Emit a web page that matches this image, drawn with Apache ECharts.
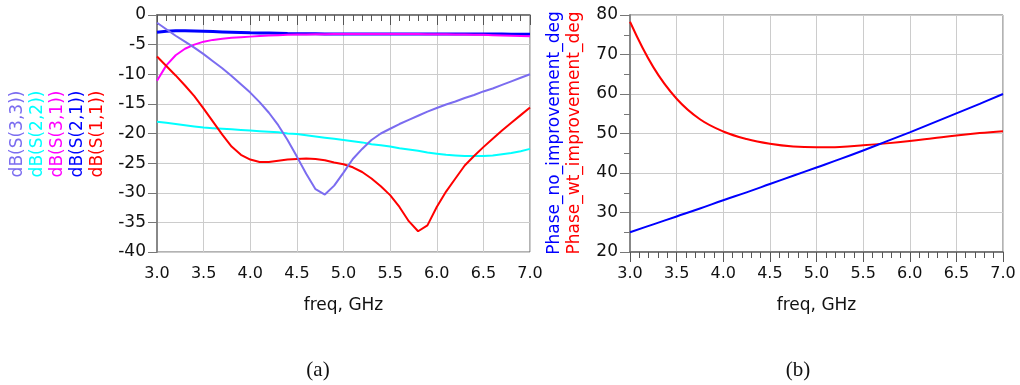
<!DOCTYPE html>
<html>
<head>
<meta charset="utf-8">
<script src="https://cdn.jsdelivr.net/npm/echarts@6/dist/echarts.min.js"></script>
<style>
  html, body { margin: 0; padding: 0; background: #fff; }
  #chart { width: 1020px; height: 385px; }
</style>
</head>
<body>
<div id="chart"></div>
<script>
// (a) S-parameters, sampled every 0.1 GHz
const freq = [3.0, 3.1, 3.2, 3.3, 3.4, 3.5, 3.6, 3.7, 3.8, 3.9, 4.0, 4.1, 4.2, 4.3, 4.4, 4.5, 4.6, 4.7, 4.8, 4.9,
  5.0, 5.1, 5.2, 5.3, 5.4, 5.5, 5.6, 5.7, 5.8, 5.9, 6.0, 6.1, 6.2, 6.3, 6.4, 6.5, 6.6, 6.7, 6.8, 6.9, 7.0];
const s33 = [-1.3, -2.4, -3.5, -4.5, -5.5, -6.6, -7.8, -9.0, -10.3, -11.7, -13.1, -14.7, -16.5, -18.6, -21.1, -23.9, -26.8, -29.4, -30.3, -28.8,
  -26.6, -24.3, -22.6, -21.1, -20.0, -19.2, -18.4, -17.7, -17.0, -16.3, -15.7, -15.1, -14.6, -14.0, -13.5, -12.9, -12.4, -11.8, -11.2, -10.6, -10.0];
const s22 = [-18.0, -18.2, -18.4, -18.6, -18.8, -19.0, -19.1, -19.2, -19.3, -19.4, -19.5, -19.6, -19.7, -19.8, -20.0, -20.1, -20.3, -20.5, -20.7, -20.9,
  -21.1, -21.3, -21.5, -21.8, -22.0, -22.2, -22.5, -22.7, -22.9, -23.2, -23.4, -23.6, -23.7, -23.8, -23.8, -23.8, -23.7, -23.5, -23.3, -23.0, -22.6];
const s31 = [-11.1, -8.5, -6.8, -5.7, -5.0, -4.5, -4.2, -4.0, -3.85, -3.75, -3.65, -3.55, -3.45, -3.4, -3.35, -3.3, -3.28, -3.26, -3.24, -3.22,
  -3.2, -3.2, -3.2, -3.2, -3.2, -3.2, -3.2, -3.2, -3.22, -3.24, -3.25, -3.27, -3.29, -3.31, -3.33, -3.35, -3.4, -3.45, -3.5, -3.55, -3.6];
const s21 = [-2.9, -2.75, -2.65, -2.65, -2.7, -2.75, -2.8, -2.85, -2.9, -2.95, -3.0, -3.02, -3.05, -3.08, -3.12, -3.15, -3.17, -3.18, -3.19, -3.2,
  -3.2, -3.2, -3.2, -3.2, -3.2, -3.2, -3.2, -3.2, -3.2, -3.2, -3.2, -3.2, -3.2, -3.2, -3.2, -3.2, -3.21, -3.22, -3.23, -3.24, -3.25];
const s11 = [-7.0, -8.6, -10.2, -11.9, -13.7, -15.8, -18.0, -20.2, -22.2, -23.6, -24.4, -24.8, -24.8, -24.6, -24.4, -24.3, -24.2, -24.3, -24.5, -24.9,
  -25.2, -25.7, -26.5, -27.6, -28.9, -30.4, -32.4, -34.8, -36.5, -35.5, -32.4, -29.8, -27.6, -25.4, -23.8, -22.3, -20.9, -19.5, -18.2, -16.9, -15.6];

// (b) phase, sampled every 0.25 GHz
const freqB = [3.0, 3.25, 3.5, 3.75, 4.0, 4.25, 4.5, 4.75, 5.0, 5.25, 5.5, 5.75, 6.0, 6.25, 6.5, 6.75, 7.0];
const phaseNo = [25.0, 27.0, 29.0, 31.0, 33.1, 35.1, 37.2, 39.3, 41.4, 43.5, 45.7, 48.0, 50.3, 52.7, 55.1, 57.5, 60.0];
const phaseWt = [78.3, 66.8, 58.8, 53.6, 50.5, 48.6, 47.4, 46.7, 46.5, 46.6, 47.0, 47.5, 48.1, 48.8, 49.5, 50.1, 50.6];

const labelsA = [
  { text: 'dB(S(3,3))', color: '#7b6cf0' },
  { text: 'dB(S(2,2))', color: '#00ffff' },
  { text: 'dB(S(3,1))', color: '#ff00ff' },
  { text: 'dB(S(2,1))', color: '#0000ff' },
  { text: 'dB(S(1,1))', color: '#ff0000' }
];
const labelsB = [
  { text: 'Phase_no_improvement_deg', color: '#0000ff' },
  { text: 'Phase_wt_improvement_deg', color: '#ff0000' }
];

const font = '"DejaVu Sans", Verdana, sans-serif';
const pairs = (xs, ys) => xs.map((x, i) => [x, ys[i]]);

function xAxisFor(gridIndex) {
  return {
    gridIndex,
    type: 'value',
    min: 3,
    max: 7,
    interval: 0.5,
    name: 'freq, GHz',
    nameLocation: 'middle',
    nameGap: 45,
    nameTextStyle: { fontFamily: font, fontSize: 17, color: '#111' },
    axisLine: { lineStyle: { color: '#666', width: 1.5 } },
    axisTick: { show: true, length: 10, lineStyle: { color: '#555' } },
    minorTick: { show: true, splitNumber: 5, length: 6, lineStyle: { color: '#555' } },
    axisLabel: { fontFamily: font, fontSize: 16, color: '#111', margin: 14, formatter: (v) => v.toFixed(1) },
    splitLine: { show: true, lineStyle: { color: '#cccccc', width: 1 } }
  };
}

const chart = echarts.init(document.getElementById('chart'), null, { renderer: 'canvas' });
const line = (name, x, y, color, width, xi, smooth) => ({
  name,
  type: 'line',
  xAxisIndex: xi,
  yAxisIndex: xi,
  data: pairs(x, y),
  showSymbol: false,
  smooth: smooth || false,
  lineStyle: { color, width },
  itemStyle: { color }
});

chart.setOption({
  animation: false,
  backgroundColor: '#ffffff',
  grid: [
    { left: 157, top: 15, width: 373, height: 237, show: true, borderColor: '#666', borderWidth: 1 },
    { left: 630, top: 15, width: 373, height: 237, show: true, borderColor: '#666', borderWidth: 1 }
  ],
  xAxis: [xAxisFor(0), xAxisFor(1)],
  yAxis: [
    {
      gridIndex: 0,
      type: 'value',
      min: -40,
      max: 0,
      interval: 5,
      axisLine: { show: true, lineStyle: { color: '#888', width: 2 } },
      axisTick: { show: true, length: 9, lineStyle: { color: '#777' } },
      axisLabel: { fontFamily: font, fontSize: 17, color: '#111', margin: 11 },
      splitLine: { show: true, lineStyle: { color: '#cccccc', width: 1 } }
    },
    {
      gridIndex: 1,
      type: 'value',
      min: 20,
      max: 80,
      interval: 10,
      axisLine: { show: true, lineStyle: { color: '#888', width: 2 } },
      axisTick: { show: true, length: 10, lineStyle: { color: '#777' } },
      minorTick: { show: true, splitNumber: 2, length: 6, lineStyle: { color: '#777' } },
      axisLabel: { fontFamily: font, fontSize: 17, color: '#111', margin: 12 },
      splitLine: { show: true, lineStyle: { color: '#cccccc', width: 1 } }
    }
  ],
  series: [
    line('dB(S(2,1))', freq, s21, '#0000ff', 3, 0),
    line('dB(S(3,1))', freq, s31, '#ff00ff', 2, 0),
    line('dB(S(2,2))', freq, s22, '#00ffff', 2, 0),
    line('dB(S(1,1))', freq, s11, '#ff0000', 2, 0),
    line('dB(S(3,3))', freq, s33, '#7b6cf0', 2, 0),
    line('Phase_wt_improvement_deg', freqB, phaseWt, '#ff0000', 2, 1, 0.4),
    line('Phase_no_improvement_deg', freqB, phaseNo, '#0000ff', 2, 1, 0.4)
  ],
  graphic: [
    ...labelsA.map((l, i) => ({
      type: 'text',
      x: 18 + i * 20,
      y: 134,
      rotation: Math.PI / 2,
      style: { text: l.text, fill: l.color, font: '17px ' + font, align: 'center', verticalAlign: 'middle' }
    })),
    ...labelsB.map((l, i) => ({
      type: 'text',
      x: 555 + i * 20,
      y: 133,
      rotation: Math.PI / 2,
      style: { text: l.text, fill: l.color, font: '17px ' + font, align: 'center', verticalAlign: 'middle' }
    })),
    { type: 'text', x: 318, y: 370, style: { text: '(a)', fill: '#111', font: '21px "Liberation Serif", "Times New Roman", serif', align: 'center', verticalAlign: 'middle' } },
    { type: 'text', x: 798, y: 370, style: { text: '(b)', fill: '#111', font: '21px "Liberation Serif", "Times New Roman", serif', align: 'center', verticalAlign: 'middle' } }
  ]
});
</script>
</body>
</html>
